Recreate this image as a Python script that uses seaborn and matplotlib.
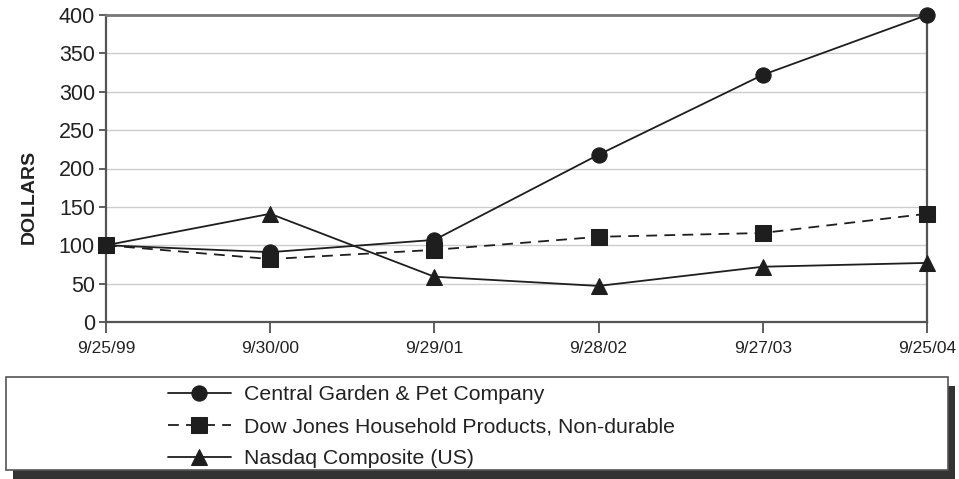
import matplotlib
matplotlib.use("Agg")
import matplotlib.pyplot as plt
from matplotlib.patches import Rectangle
import seaborn as sns
import pandas as pd

dates = ["9/25/99", "9/30/00", "9/29/01", "9/28/02", "9/27/03", "9/25/04"]
central = [100, 91, 107, 218, 322, 400]
dowjones = [100, 82, 94, 111, 116, 141]
nasdaq = [100, 141, 59, 47, 72, 77]
series_names = ["Central Garden & Pet Company",
                "Dow Jones Household Products, Non-durable",
                "Nasdaq Composite (US)"]
yticks = [0, 50, 100, 150, 200, 250, 300, 350, 400]

sns.set_theme(style="white")
plt.rcParams['font.family'] = ['Liberation Sans', 'DejaVu Sans']

W, H = 959, 479
fig = plt.figure(figsize=(W / 100, H / 100), dpi=100)
ax = fig.add_axes([106 / W, 1 - 322 / H, (927 - 106) / W, (322 - 15) / H])

x = list(range(len(dates)))
ink = "#1e1e1e"
specs = [(central, "o", (None, None), 11),
         (dowjones, "s", (6, 4), 11),
         (nasdaq, "^", (None, None), 11)]
handles = []
for (vals, mk, dash, ms), name in zip(specs, series_names):
    df = pd.DataFrame({"x": x, "y": vals})
    sns.lineplot(data=df, x="x", y="y", ax=ax, color=ink, lw=1.3,
                 marker=mk, markersize=ms, markeredgecolor=ink,
                 markerfacecolor=ink, clip_on=False, zorder=3)
    ln = ax.get_lines()[-1]
    if dash[0] is not None:
        ln.set_dashes(dash)
    handles.append(ln)

ax.set_xlim(0, 5)
ax.set_ylim(0, 400)
ax.set_yticks(yticks)
ax.set_yticklabels([str(v) for v in yticks], fontsize=15.5, color="#222222")
ax.set_xticks(x)
ax.set_xticklabels(dates, fontsize=12.5, color="#222222")
ax.set_xlabel("")
ax.set_ylabel("DOLLARS", fontsize=14, fontweight="bold", color="#222222")
ax.yaxis.set_label_coords(-0.083, 0.407)
ax.grid(axis="y", color="#cccccc", lw=1)
ax.tick_params(axis="x", direction="out", length=8, width=1.2, color="#444444", pad=6, bottom=True)
ax.tick_params(axis="y", direction="out", length=5, width=1.2, color="#444444", pad=3, left=True)
for side in ["left", "right", "bottom", "top"]:
    ax.spines[side].set_visible(True)
    ax.spines[side].set_color("#555555")
    ax.spines[side].set_linewidth(1.6)
ax.spines["top"].set_color("#777777")
ax.spines["top"].set_linewidth(2)

if ax.get_legend():
    ax.get_legend().remove()

# legend box with shadow
bx0, by0, bx1, by1 = 6, 377, 948, 470
fig.patches.append(Rectangle(((bx0 + 7) / W, 1 - (by1 + 9) / H), (bx1 - bx0) / W, (by1 - by0) / H,
                             transform=fig.transFigure, facecolor="#333333", edgecolor="none", zorder=0))
fig.patches.append(Rectangle((bx0 / W, 1 - by1 / H), (bx1 - bx0) / W, (by1 - by0) / H,
                             transform=fig.transFigure, facecolor="white", edgecolor="#555555",
                             lw=1.2, zorder=1))
leg = fig.legend(handles, series_names, loc="upper left",
                 bbox_to_anchor=(159 / W, 1 - 377 / H), frameon=False,
                 fontsize=15.3, handlelength=3.0, handletextpad=0.6,
                 labelspacing=0.6, borderaxespad=0)
for t in leg.get_texts():
    t.set_color("#222222")

fig.savefig("out.png", dpi=100)
